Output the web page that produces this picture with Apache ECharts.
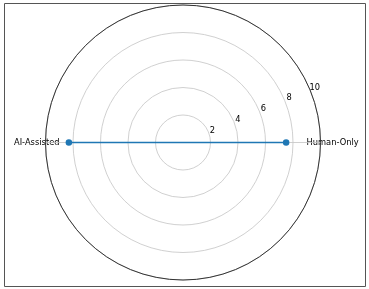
<!DOCTYPE html>
<html><head><meta charset="utf-8">
<script src="https://cdn.jsdelivr.net/npm/echarts@6/dist/echarts.min.js"></script>
<style>html,body{margin:0;padding:0;background:#fff}#c{width:369px;height:289px}</style>
</head><body><div id="c"></div>
<script>
const categories = ['Human-Only', 'AI-Assisted'];
const scores = [7.5, 8.3];
const radiusTicks = [0, 2, 4, 6, 8, 10];

const step = 360 / categories.length;
const seriesData = scores.map((v, i) => [v, i * step]);

const chart = echarts.init(document.getElementById('c'), null, {renderer: 'canvas'});
const font = 'DejaVu Sans';
const center = ['183px', '142.5px'];
const R = 137.5;
chart.setOption({
  animation: false,
  backgroundColor: '#fff',
  graphic: [{
    type: 'rect', shape: {x: 4.5, y: 3.5, width: 361, height: 283},
    style: {fill: 'none', stroke: '#555', lineWidth: 1}, z: 100
  }],
  polar: [
    {center: center, radius: R},
    {center: ['187.5px', '143.5px'], radius: 139}
  ],
  angleAxis: [
    {
      polarIndex: 0, type: 'value', min: 0, max: 360, interval: step,
      startAngle: 0, clockwise: false,
      axisLine: {show: true, lineStyle: {color: '#333', width: 1}},
      axisTick: {show: false},
      axisLabel: {show: true, color: '#000', fontFamily: font, fontSize: 8.3, margin: -14,
        formatter: v => (v < 360 ? categories[Math.round(v / step)] : '')},
      splitLine: {show: true, lineStyle: {color: '#c4c4c4', width: 0.8}},
      z: 1
    },
    {
      polarIndex: 1, type: 'value', min: 0, max: 360, startAngle: 23, show: false
    }
  ],
  radiusAxis: [
    {
      polarIndex: 0, type: 'value', min: radiusTicks[0], max: radiusTicks[radiusTicks.length - 1], interval: 2,
      axisLine: {show: false}, axisTick: {show: false}, axisLabel: {show: false},
      splitLine: {show: true, lineStyle: {color: '#c4c4c4', width: 0.8}}
    },
    {
      polarIndex: 1, type: 'value', min: radiusTicks[0], max: radiusTicks[radiusTicks.length - 1], interval: 2,
      axisLine: {show: false}, axisTick: {show: false}, splitLine: {show: false},
      axisLabel: {
        show: true, color: '#000', fontFamily: font, fontSize: 8.3, margin: 2,
        align: 'center', verticalAlign: 'middle',
        formatter: v => v === 0 ? '' : String(v)
      }
    }
  ],
  series: [{
    type: 'line', coordinateSystem: 'polar', polarIndex: 0,
    data: seriesData,
    symbol: 'circle', symbolSize: 6.5, showSymbol: true,
    lineStyle: {color: '#1f77b4', width: 1.5},
    itemStyle: {color: '#1f77b4'},
    z: 10
  }]
});
</script></body></html>
